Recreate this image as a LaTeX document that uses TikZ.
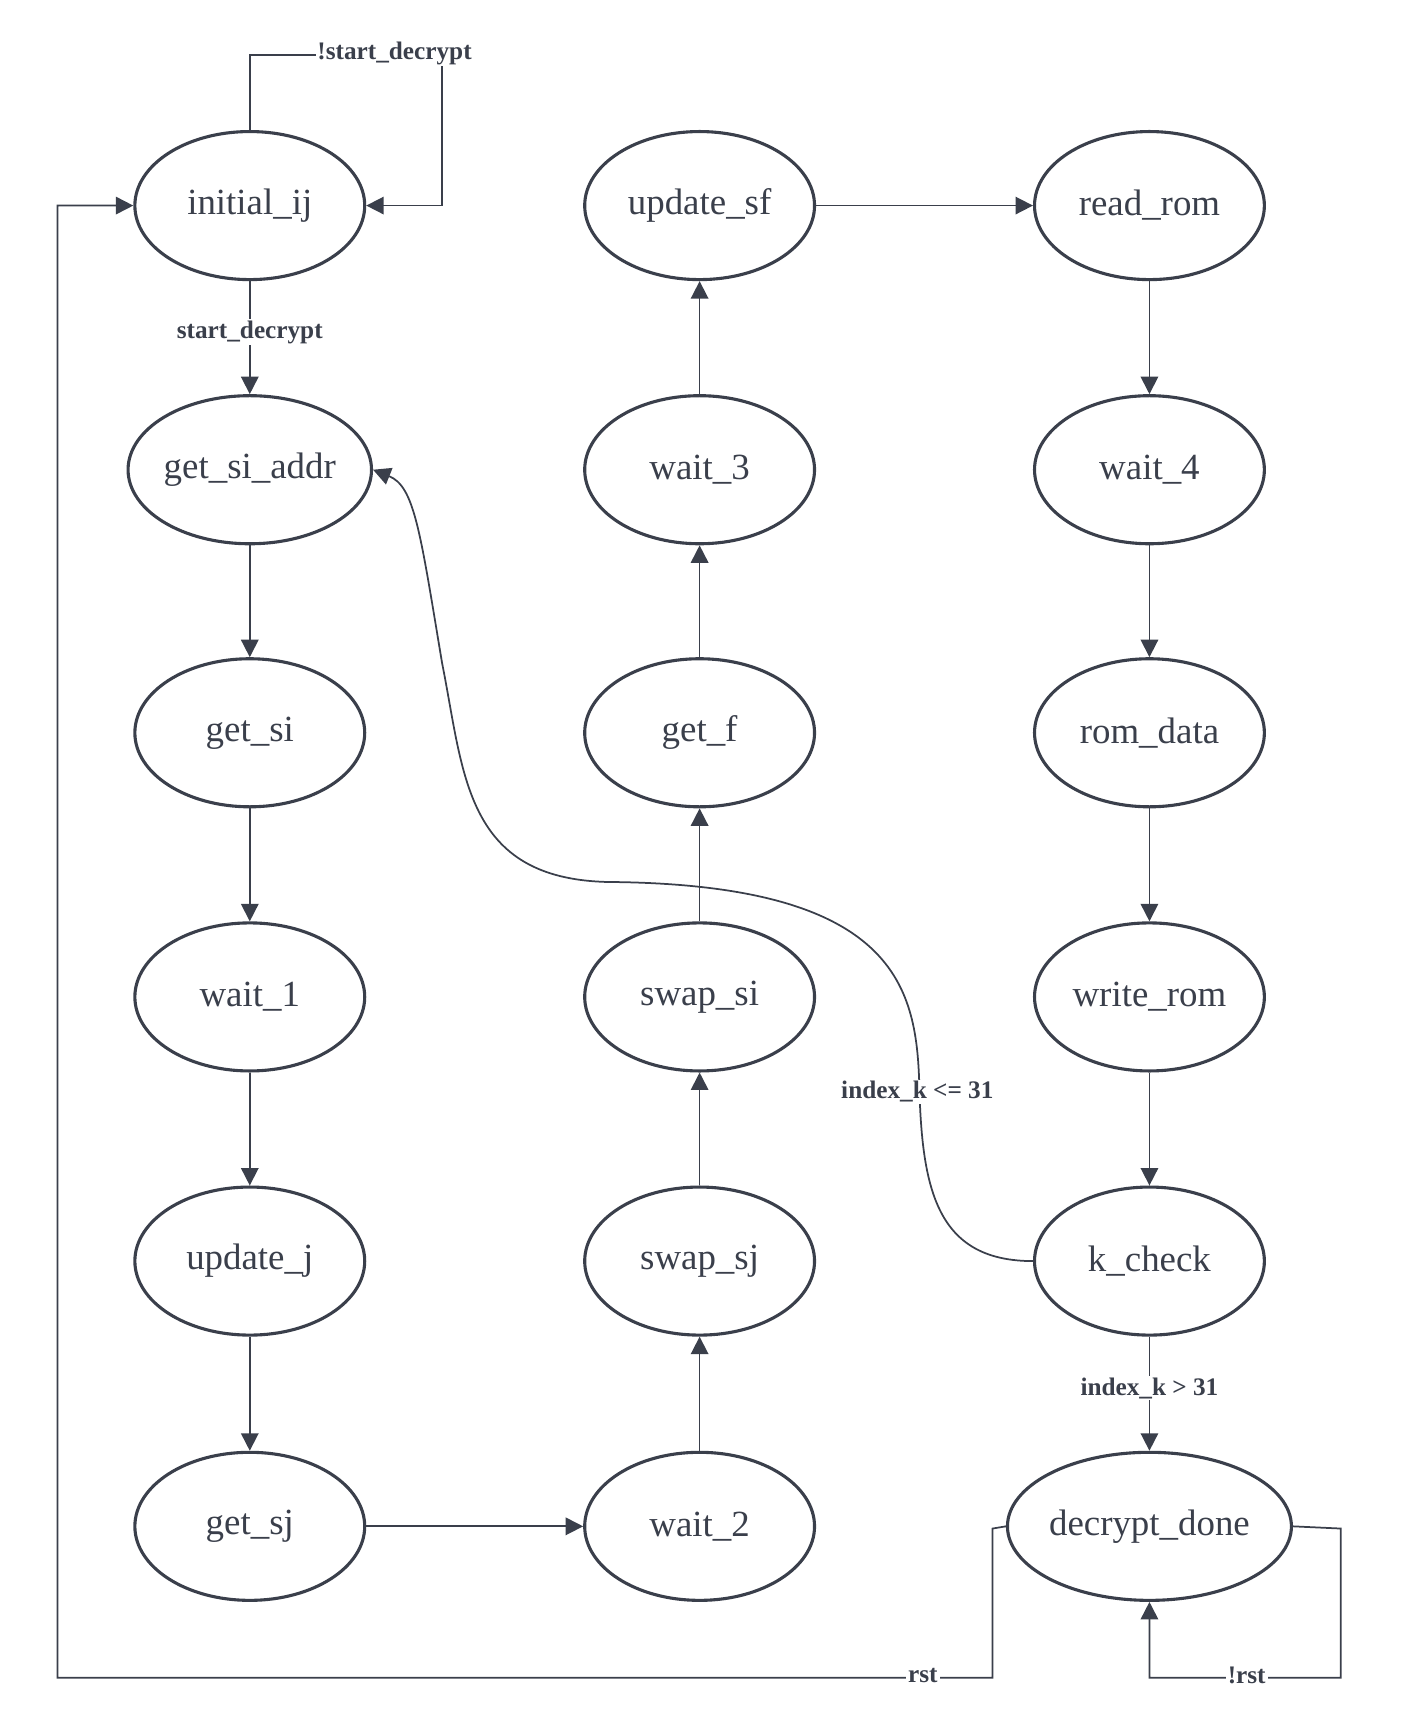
\documentclass[tikz,border=0pt]{standalone}
\usepackage{fontspec}
\setmainfont{Liberation Serif}
\usetikzlibrary{arrows.meta,shapes.geometric}
\definecolor{ink}{HTML}{3A3F4B}
\begin{document}
\begin{tikzpicture}[x=0.02cm,y=-0.02cm,
  st/.style={ellipse,draw=ink,line width=1.6pt,minimum width=4.16cm,minimum height=2.68cm,inner sep=0pt,font=\fontsize{19}{22}\selectfont,text=ink},
  ar/.style={draw=ink,line width=0.9pt,-{Triangle[length=9pt,width=9pt]}},
  lb/.style={font=\bfseries\fontsize{13}{15}\selectfont,text=ink,fill=white,inner sep=1pt}]
\useasboundingbox (0,0) rectangle (1270,1568);
\node[st] (a1) at (226,186) {initial\_ij};
\node[st] (a2) at (226,425) {get\_si\_addr};
\node[st] (a3) at (226,663) {get\_si};
\node[st] (a4) at (226,902) {wait\_1};
\node[st] (a5) at (226,1141) {update\_j};
\node[st] (a6) at (226,1381) {get\_sj};
\node[st] (b1) at (633,186) {update\_sf};
\node[st] (b2) at (633,425) {wait\_3};
\node[st] (b3) at (633,663) {get\_f};
\node[st] (b4) at (633,902) {swap\_si};
\node[st] (b5) at (633,1141) {swap\_sj};
\node[st] (b6) at (633,1381) {wait\_2};
\node[st] (c1) at (1040,186) {read\_rom};
\node[st] (c2) at (1040,425) {wait\_4};
\node[st] (c3) at (1040,663) {rom\_data};
\node[st] (c4) at (1040,902) {write\_rom};
\node[st] (c5) at (1040,1141) {k\_check};
\node[st] (c6) at (1040,1381) {decrypt\_done};
\draw[ar] (a1.north) -- (226,50) -- (400,50) -- (400,186) -- (a1.east);
\node[lb] (l1) at (357,48) {!start\_decrypt};
\draw[ar] (a1) -- (a2) node[lb,pos=0.45] {start\_decrypt};
\draw[ar] (a2) -- (a3);
\draw[ar] (a3) -- (a4);
\draw[ar] (a4) -- (a5);
\draw[ar] (a5) -- (a6);
\draw[ar] (a6) -- (b6);
\draw[ar] (b6) -- (b5);
\draw[ar] (b5) -- (b4);
\draw[ar] (b4) -- (b3);
\draw[ar] (b3) -- (b2);
\draw[ar] (b2) -- (b1);
\draw[ar] (b1.east) -- (c1.west);
\draw[ar] (c1) -- (c2);
\draw[ar] (c2) -- (c3);
\draw[ar] (c3) -- (c4);
\draw[ar] (c4) -- (c5);
\draw[ar] (c5) -- (c6) node[lb,pos=0.45] {index\_k > 31};
\draw[ar] (c5.west) .. controls (850,1141) and (835,1080) .. (832,990)
  .. controls (830,900) and (820,800) .. (550,798)
  .. controls (420,795) and (420,700) .. (400,600)
  .. controls (380,480) and (375,440) .. (a2.east);
\node[lb] (l2) at (830,988) {index\_k <= 31};
\draw[ar] (c6.west) -- (898,1383) -- (898,1518) -- (52,1518) -- (52,186) -- (a1.west);
\node[lb] (l3) at (835,1516) {rst};
\draw[ar] (c6.east) -- (1213,1383) -- (1213,1518) -- (1040,1518) -- (c6.south);
\node[lb] (l4) at (1128,1516) {!rst};
\end{tikzpicture}
\end{document}
